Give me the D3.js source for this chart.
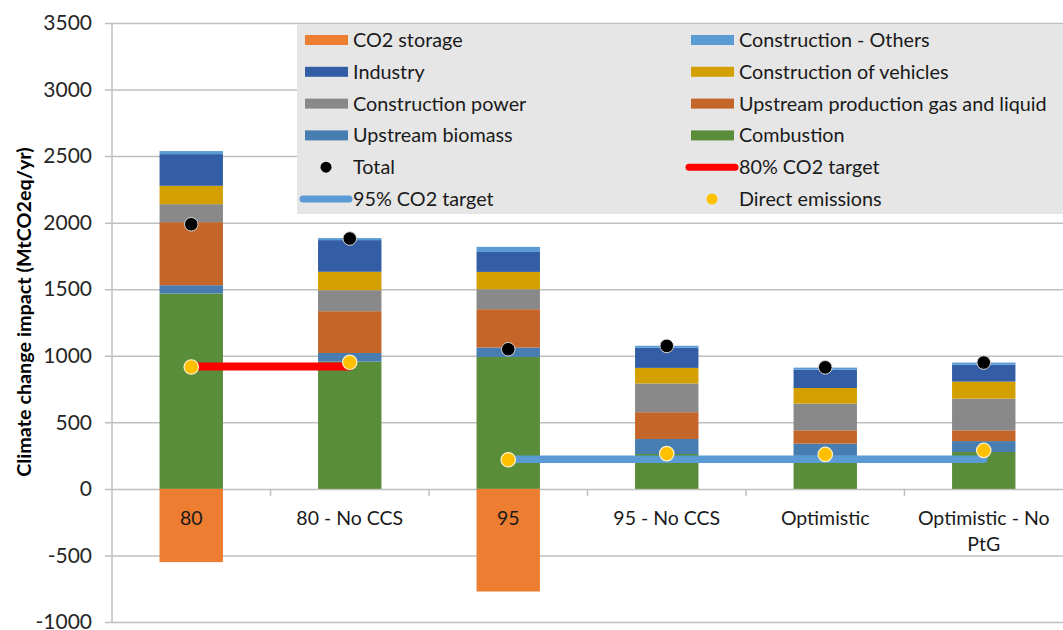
<!DOCTYPE html>
<html>
<head>
<meta charset="utf-8">
<script src="https://cdn.jsdelivr.net/npm/d3@7"></script>
<style>
  body { margin: 0; background: #fff; }
  svg { display: block; font-family: Lato, "Open Sans", sans-serif; }
  .tick text { fill: #262626; }
</style>
</head>
<body>
<svg id="chart"></svg>
<script>
// --- DATA ---
const categories = ["80", "80 - No CCS", "95", "95 - No CCS", "Optimistic", "Optimistic - No PtG"];

const combustion      = [1468, 956, 991, 262, 248, 277];
const upstreamBiomass = [62, 65, 71, 113, 92, 82];
const upstreamGas     = [474, 314, 288, 201, 100, 81];
const constrPower     = [135, 158, 150, 216, 201, 238];
const constrVehicles  = [138, 138, 130, 117, 117, 128];
const industry        = [238, 238, 150, 151, 138, 128];
const constrOthers    = [23, 15, 38, 15, 15, 15];
const co2Storage      = [-550, 0, -771, 0, 0, 0];

const total           = [1988, 1881, 1049, 1074, 913, 949];
const directEmissions = [916, 951, 219, 265, 259, 289];
const target80        = [920, 920, null, null, null, null];
const target95        = [null, null, 222, 222, 222, 222];

const yTicks = [-1000, -500, 0, 500, 1000, 1500, 2000, 2500, 3000, 3500];

// stacked positive series, bottom to top
const seriesKeys = ["Combustion", "Upstream biomass", "Upstream production gas and liquid",
    "Construction power", "Construction of vehicles", "Industry", "Construction - Others"];
const seriesValues = [combustion, upstreamBiomass, upstreamGas, constrPower, constrVehicles, industry, constrOthers];

const colors = {
    "CO2 storage": "#ed7d31",
    "Construction - Others": "#5b9bd5",
    "Industry": "#335ea5",
    "Construction of vehicles": "#d4a000",
    "Construction power": "#898989",
    "Upstream production gas and liquid": "#c4652a",
    "Upstream biomass": "#477db0",
    "Combustion": "#5a8d3a"
};

// --- SETUP ---
const W = 1063, H = 630;
const margin = { top: 23, right: 0, bottom: 8, left: 112 };
const width = W - margin.left - margin.right;
const height = H - margin.top - margin.bottom;

const svg = d3.select("#chart").attr("width", W).attr("height", H);
const g = svg.append("g").attr("transform", `translate(${margin.left},${margin.top})`);

const x = d3.scaleBand().domain(categories).range([0, width]).paddingInner(0.6).paddingOuter(0.3);
const y = d3.scaleLinear().domain([-1000, 3500]).range([height, 0]);

// gridlines + y axis
const yAxis = d3.axisLeft(y).tickValues(yTicks).tickFormat(d => String(d)).tickSize(-width).tickPadding(20);
const yAxisG = g.append("g").call(yAxis);
yAxisG.select(".domain").remove();
yAxisG.selectAll(".tick line").attr("stroke", "#bfbfbf").attr("stroke-width", 1.5).attr("x1", -7);
yAxisG.selectAll(".tick text").attr("font-size", 21).attr("font-family", "Lato, sans-serif");

g.append("line")
    .attr("x1", 0).attr("x2", 0).attr("y1", 0).attr("y2", height)
    .attr("stroke", "#bfbfbf").attr("stroke-width", 1.5);

// category tick marks on the zero line
const step = x.step();
d3.range(1, categories.length).forEach(i => {
    g.append("line")
        .attr("x1", i * step).attr("x2", i * step)
        .attr("y1", y(0)).attr("y2", y(0) + 7)
        .attr("stroke", "#bfbfbf").attr("stroke-width", 1.5);
});

// --- BARS ---
const table = categories.map((c, i) => {
    const row = { cat: c };
    seriesKeys.forEach((k, j) => row[k] = seriesValues[j][i]);
    return row;
});
const stacked = d3.stack().keys(seriesKeys)(table);

g.append("g").selectAll("g")
    .data(stacked)
    .join("g")
    .attr("fill", d => colors[d.key])
    .selectAll("rect")
    .data(d => d)
    .join("rect")
    .attr("x", d => x(d.data.cat))
    .attr("width", x.bandwidth())
    .attr("y", d => y(d[1]))
    .attr("height", d => y(d[0]) - y(d[1]));

g.append("g").selectAll("rect")
    .data(categories.map((c, i) => ({ cat: c, v: co2Storage[i] })).filter(d => d.v < 0))
    .join("rect")
    .attr("fill", colors["CO2 storage"])
    .attr("x", d => x(d.cat))
    .attr("width", x.bandwidth())
    .attr("y", y(0))
    .attr("height", d => y(d.v) - y(0));

// category labels
const labelG = g.append("g").attr("font-size", 19.5).attr("fill", "#1a1a1a").attr("text-anchor", "middle");
categories.forEach(c => {
    const cx = x(c) + x.bandwidth() / 2;
    if (c === "Optimistic - No PtG") {
        labelG.append("text").attr("x", cx).attr("y", y(0) + 36).text("Optimistic - No");
        labelG.append("text").attr("x", cx).attr("y", y(0) + 62).text("PtG");
    } else {
        labelG.append("text").attr("x", cx).attr("y", y(0) + 36).text(c);
    }
});

// --- LINES AND MARKERS ---
const cx = c => x(c) + x.bandwidth() / 2;
const line = d3.line().defined(d => d.v !== null).x(d => cx(d.cat)).y(d => y(d.v));

g.append("path")
    .datum(categories.map((c, i) => ({ cat: c, v: target80[i] })))
    .attr("d", line).attr("fill", "none")
    .attr("stroke", "#ff0000").attr("stroke-width", 8).attr("stroke-linecap", "round");

g.append("path")
    .datum(categories.map((c, i) => ({ cat: c, v: target95[i] })))
    .attr("d", line).attr("fill", "none")
    .attr("stroke", "#5b9bd5").attr("stroke-width", 7.5).attr("stroke-linecap", "round");

g.append("g").selectAll("circle")
    .data(categories.map((c, i) => ({ cat: c, v: total[i] })))
    .join("circle")
    .attr("cx", d => cx(d.cat)).attr("cy", d => y(d.v)).attr("r", 6.8)
    .attr("fill", "#000").attr("stroke", "#d9d9d9").attr("stroke-width", 1);

g.append("g").selectAll("circle")
    .data(categories.map((c, i) => ({ cat: c, v: directEmissions[i] })))
    .join("circle")
    .attr("cx", d => cx(d.cat)).attr("cy", d => y(d.v)).attr("r", 7.2)
    .attr("fill", "#ffc000").attr("stroke", "#fff2cc").attr("stroke-width", 1.2);

// y axis title
svg.append("text")
    .attr("transform", `translate(24,${312}) rotate(-90)`)
    .attr("text-anchor", "middle").attr("dy", "0.35em")
    .attr("font-size", 19.8).attr("font-weight", "bold").attr("fill", "#000")
    .text("Climate change impact (MtCO2eq/yr)");

// --- LEGEND ---
const legendItems = [
    { name: "CO2 storage", type: "rect" },
    { name: "Construction - Others", type: "rect" },
    { name: "Industry", type: "rect" },
    { name: "Construction of vehicles", type: "rect" },
    { name: "Construction power", type: "rect" },
    { name: "Upstream production gas and liquid", type: "rect" },
    { name: "Upstream biomass", type: "rect" },
    { name: "Combustion", type: "rect" },
    { name: "Total", type: "dot", color: "#000" },
    { name: "80% CO2 target", type: "line", color: "#ff0000" },
    { name: "95% CO2 target", type: "line", color: "#5b9bd5" },
    { name: "Direct emissions", type: "dot", color: "#ffc000" }
];

const legend = svg.append("g");
legend.append("rect")
    .attr("x", 297).attr("y", 24).attr("width", W - 297).attr("height", 190)
    .attr("fill", "#e6e6e6");

const colX = [305, 691];
legendItems.forEach((d, i) => {
    const col = i % 2, row = Math.floor(i / 2);
    const lx = colX[col], ly = 40 + row * 31.8;
    const item = legend.append("g");
    if (d.type === "rect") {
        item.append("rect").attr("x", lx).attr("y", ly - 5).attr("width", 43).attr("height", 10)
            .attr("fill", colors[d.name]);
    } else if (d.type === "line") {
        item.append("line").attr("x1", lx - 2).attr("x2", lx + 44).attr("y1", ly).attr("y2", ly)
            .attr("stroke", d.color).attr("stroke-width", 7).attr("stroke-linecap", "round");
    } else {
        item.append("circle").attr("cx", lx + 21).attr("cy", ly).attr("r", 5.5)
            .attr("fill", d.color);
    }
    item.append("text").attr("x", lx + 48).attr("y", ly).attr("dy", "0.35em")
        .attr("font-size", 19.8).attr("fill", "#1a1a1a").text(d.name);
});
</script>
</body>
</html>
